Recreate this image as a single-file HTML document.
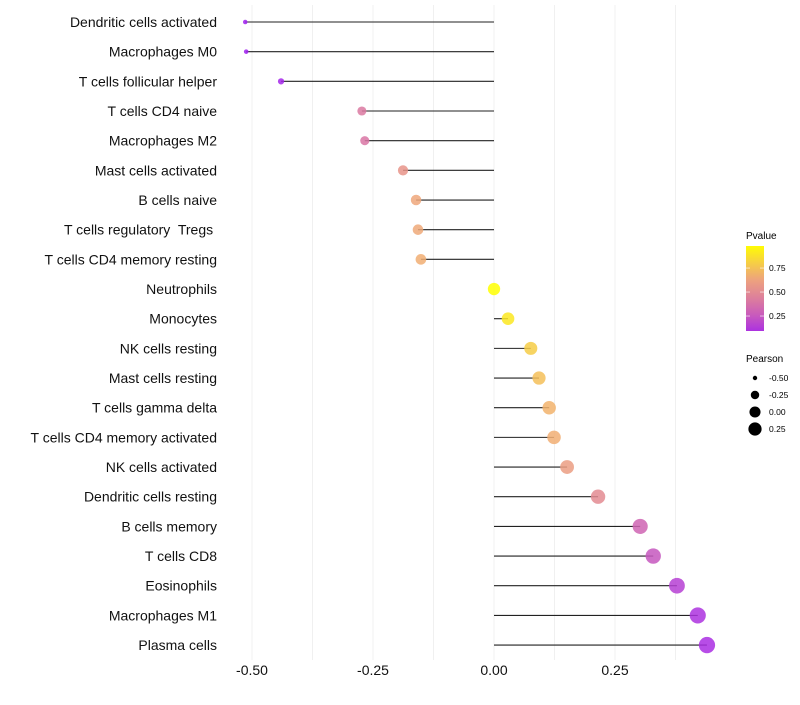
<!DOCTYPE html>
<html><head><meta charset="utf-8"><style>
body{margin:0;background:#fff;font-family:"Liberation Sans",sans-serif}
text{white-space:pre}
</style></head><body>
<svg id="c" width="800" height="700" xmlns="http://www.w3.org/2000/svg"></svg>
<script>
const categories=["Dendritic cells activated","Macrophages M0","T cells follicular helper","T cells CD4 naive","Macrophages M2","Mast cells activated","B cells naive","T cells regulatory  Tregs ","T cells CD4 memory resting","Neutrophils","Monocytes","NK cells resting","Mast cells resting","T cells gamma delta","T cells CD4 memory activated","NK cells activated","Dendritic cells resting","B cells memory","T cells CD8","Eosinophils","Macrophages M1","Plasma cells"];
const pearson=[-0.514,-0.512,-0.44,-0.273,-0.267,-0.188,-0.161,-0.157,-0.151,0.0,0.029,0.076,0.093,0.114,0.124,0.151,0.215,0.302,0.329,0.378,0.421,0.44];
const pvalue=[0.02,0.02,0.05,0.4,0.38,0.55,0.65,0.66,0.68,0.99,0.9,0.8,0.75,0.7,0.68,0.6,0.5,0.3,0.25,0.15,0.1,0.08];
const xTicks=[-0.5,-0.25,0,0.25];
const xTickLabels=["-0.50","-0.25","0.00","0.25"];
const pTicks=[0.25,0.5,0.75];
const sizeTicks=[-0.5,-0.25,0,0.25];
const ns="http://www.w3.org/2000/svg";
const svg=document.getElementById('c');
function el(t,a,p){const e=document.createElementNS(ns,t);for(const k in a)e.setAttribute(k,a[k]);(p||svg).appendChild(e);return e;}
const x=v=>494+v*484;
const y=i=>22+i*29.67;
const r=v=>Math.sqrt(Math.max(2,38+64*v));
function lerp(a,b,t){return a.map((c,i)=>Math.round(c+(b[i]-c)*t));}
const stops=[[160,32,240],[214,110,170],[240,170,120],[255,255,0]];
function col(p){const t=Math.min(1,Math.max(0,(p-0.02)/(0.99-0.02)));const s=t*3;const k=Math.min(2,Math.floor(s));const c=lerp(stops[k],stops[k+1],s-k);return `rgb(${c})`;}
[-0.5,-0.375,-0.25,-0.125,0,0.125,0.25,0.375].forEach(v=>{
 const g=el('line',{x1:x(v),x2:x(v),y1:5,y2:660,stroke:'#f0f0f0','stroke-width':1});
 
});
xTicks.forEach((v,i)=>{
 const t=el('text',{x:x(v),y:675,'text-anchor':'middle','font-size':14,fill:'#111'});t.textContent=xTickLabels[i];
 
});
categories.forEach((c,i)=>{
 const t=el('text',{x:217,y:y(i)+5,'text-anchor':'end','font-size':14,fill:'#111'});t.textContent=c;
 
 const l=el('line',{x1:x(0),x2:x(pearson[i]),y1:y(i),y2:y(i),stroke:'#222','stroke-width':1.1});
 
 const d=el('circle',{cx:x(pearson[i]),cy:y(i),r:r(pearson[i]),fill:col(pvalue[i]),'fill-opacity':0.85});
 
});
const lt=el('text',{x:746,y:239,'font-size':10});lt.textContent='Pvalue';

const defs=el('defs',{});const gr=el('linearGradient',{id:'g',x1:0,y1:1,x2:0,y2:0},defs);
[0,0.2,0.4,0.6,0.8,1].forEach(o=>el('stop',{offset:o,'stop-color':col(0.094+o*(0.98-0.094))},gr));
const bar=el('rect',{x:746,y:246,width:18,height:85,fill:'url(#g)'});

const pv=p=>331-(p-0.094)/(0.98-0.094)*85;
pTicks.forEach(p=>{
 el('line',{x1:746,x2:750,y1:pv(p),y2:pv(p),stroke:'#fff','stroke-opacity':0.6});
 el('line',{x1:760,x2:764,y1:pv(p),y2:pv(p),stroke:'#fff','stroke-opacity':0.6});
 const t=el('text',{x:769,y:pv(p)+3,'font-size':8.5});t.textContent=p.toFixed(2);
 
});
const st=el('text',{x:746,y:362,'font-size':10});st.textContent='Pearson';

sizeTicks.forEach((v,i)=>{
 const cy=378+i*17;
 const c=el('circle',{cx:755,cy:cy,r:r(v)*0.9,fill:'#000'});
 
 const t=el('text',{x:769,y:cy+3,'font-size':8.5});t.textContent=v.toFixed(2);
 
});
</script>
</body></html>
